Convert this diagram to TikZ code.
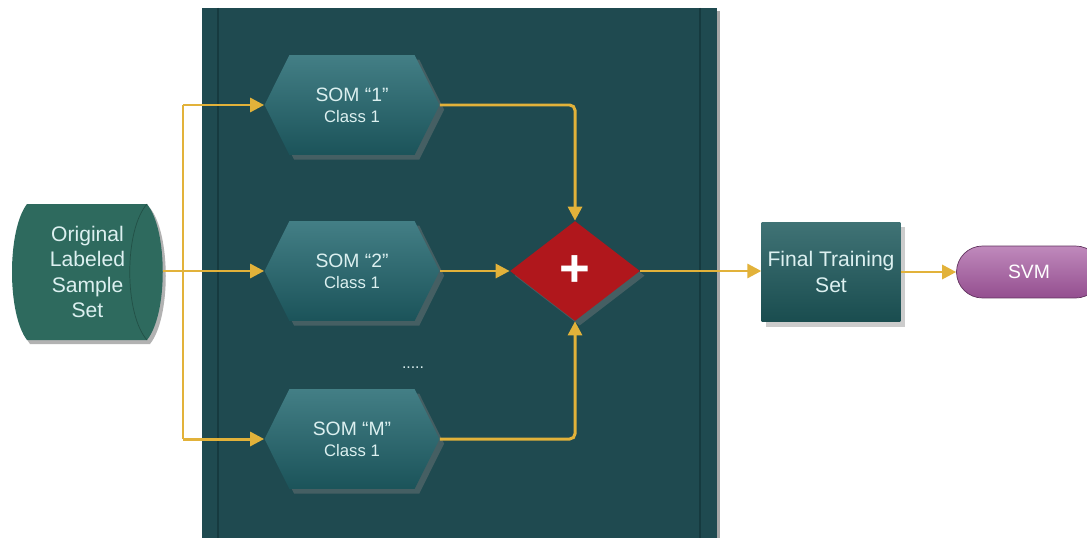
\documentclass[tikz,border=0pt]{standalone}
\usepackage{fontspec}
\setmainfont{Liberation Sans}
\usetikzlibrary{shapes.geometric,shapes.symbols,arrows.meta,shadows}

\definecolor{panel}{HTML}{1F4A50}
\definecolor{panelline}{HTML}{163A3F}
\definecolor{hexfill}{HTML}{226870}
\definecolor{flow}{HTML}{E2B23A}
\definecolor{plusred}{HTML}{B0171C}
\definecolor{sample}{HTML}{2E6A5E}
\definecolor{boxfill}{HTML}{1E5A5D}
\definecolor{svmfill}{HTML}{A4579F}
\definecolor{txt}{HTML}{DCF0F0}

\tikzset{
  som/.style={signal, signal to=east and west, signal pointer angle=127,
    minimum width=3.5cm, minimum height=2cm, inner sep=0pt,
    top color=hexfill!85!white, bottom color=hexfill!80!black,
    text=txt, align=center, drop shadow={opacity=0.4}},
  flowline/.style={draw=flow, line width=1.7pt},
  flowarrow/.style={flowline, -{Triangle[length=8pt,width=8pt,fill=flow]}}
}

\begin{document}
\begin{tikzpicture}[x=0.02cm, y=-0.02cm]
  \useasboundingbox (0,0) rectangle (1087,537);
  \fill[white] (0,0) rectangle (1087,537);

  % group panel
  \fill[black!35] (205,11) rectangle (720,540);
  \fill[panel] (202,8) rectangle (717,540);
  \draw[panelline, line width=1.2pt] (218,8) -- (218,540) (700,8) -- (700,540);

  % input sample set
  \fill[black!30] (30,208) -- (150,208) .. controls (171,234) and (171,318) .. (150,344)
    -- (30,344) .. controls (10,318) and (10,234) .. (30,208);
  \fill[sample] (27,204) -- (147,204) .. controls (168,230) and (168,314) .. (147,340)
    -- (27,340) .. controls (7,314) and (7,230) .. (27,204);
  \draw[sample!75!black] (147,204) .. controls (124,230) and (124,314) .. (147,340);
  \node[text=txt, align=center, font=\fontsize{12}{14.5}\selectfont,
    minimum width=3.02cm, inner sep=0pt] (orig) at (87.5,272)
    {Original\\Labeled\\Sample\\Set};

  % SOM nodes
  \node[som] (s1) at (352,105) {\fontsize{11}{13}\selectfont SOM “1”\\\fontsize{9.5}{12}\selectfont Class 1};
  \node[som] (s2) at (352,271) {\fontsize{11}{13}\selectfont SOM “2”\\\fontsize{9.5}{12}\selectfont Class 1};
  \node[som] (sM) at (352,439) {\fontsize{11}{13}\selectfont SOM “M”\\\fontsize{9.5}{12}\selectfont Class 1};
  \node[text=txt, font=\fontsize{9}{10}\selectfont] (dots) at (413,368) {.....};

  % combiner
  \node[diamond, minimum width=2.6cm, minimum height=2cm, inner sep=0pt,
    fill=plusred, drop shadow={opacity=0.4}, text=white,
    font=\fontsize{30}{30}\selectfont\bfseries] (plus) at (575,271) {+};

  % output
  \node[rectangle, minimum width=2.66cm, minimum height=2cm, align=center,
    top color=boxfill!85!white, bottom color=boxfill!85!black, text=txt,
    drop shadow={opacity=0.4}, font=\fontsize{12}{14.5}\selectfont] (final) at (831,272)
    {Final Training\\Set};
  \node[rectangle, rounded corners=0.52cm, minimum width=2.9cm, minimum height=1.04cm,
    top color=svmfill!70!white, bottom color=svmfill!90!black, draw=svmfill!60!black,
    text=white, font=\fontsize{11}{13}\selectfont] (svm) at (1029,272) {SVM};

  % connectors
  \coordinate (split) at (183,271);
  \draw[flowline] (orig.east |- split) -- (split);
  \draw[flowline] (split |- s1.west) -- (split |- sM.west);
  \draw[flowarrow] (split |- s1.west) -- (s1.west);
  \draw[flowarrow] (split) -- (s2.west);
  \draw[flowarrow] (split |- sM.west) -- (sM.west);
  \draw[flowarrow] (s2.east) -- (plus.west);
  \draw[flowarrow] (plus.east) -- (final.west |- plus.east);
  \draw[flowarrow] (final.east |- svm.west) -- (svm.west);
  \draw[flowarrow, rounded corners=3pt] (s1.east) -| (plus.north);
  \draw[flowarrow, rounded corners=3pt] (sM.east) -| (plus.south);
\end{tikzpicture}
\end{document}
